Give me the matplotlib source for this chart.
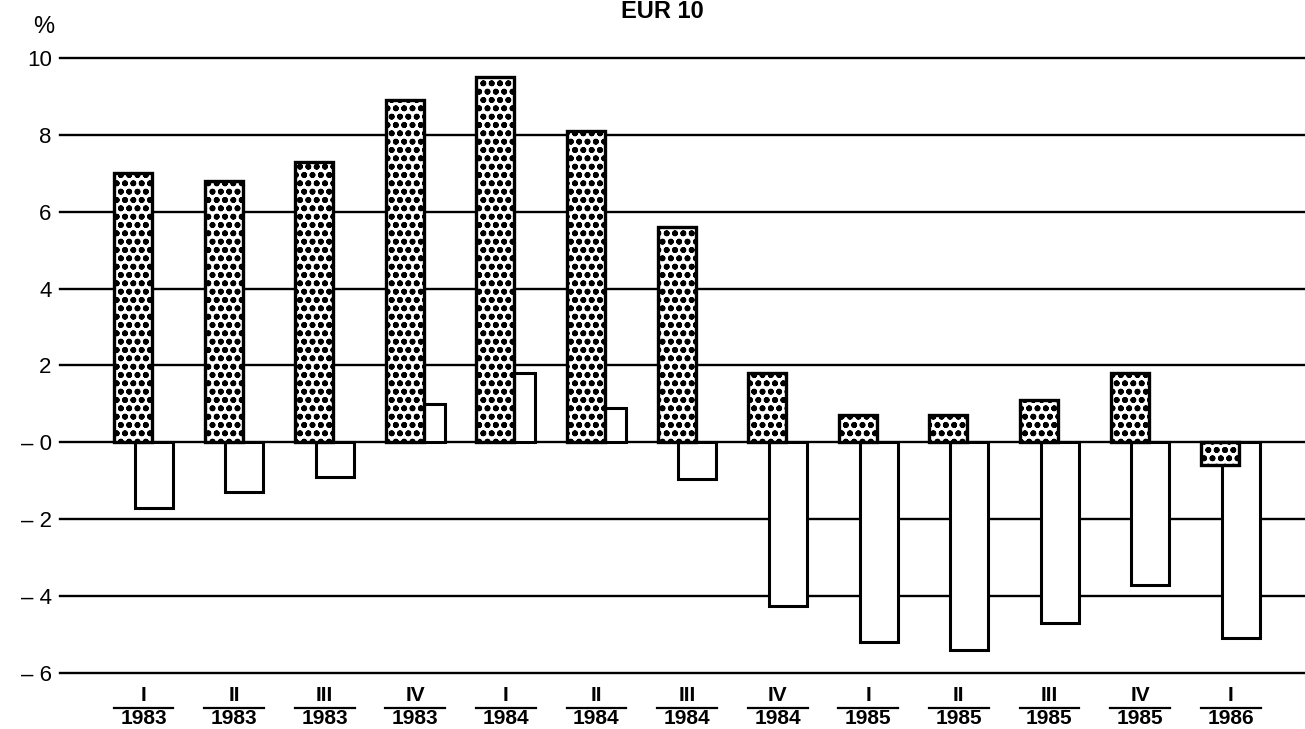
import matplotlib
matplotlib.use('Agg')
import matplotlib.pyplot as plt
import matplotlib.transforms as mtransforms
import numpy as np

plt.rcParams['font.family'] = ['Liberation Sans', 'DejaVu Sans']
plt.rcParams['hatch.linewidth'] = 1.8

# --- Données ---
trimestres = ['I', 'II', 'III', 'IV', 'I', 'II', 'III', 'IV', 'I', 'II', 'III', 'IV', 'I']
annees     = ['1983', '1983', '1983', '1983', '1984', '1984', '1984', '1984',
              '1985', '1985', '1985', '1985', '1986']
pointilles = [7.0, 6.8, 7.3, 8.9, 9.5, 8.1, 5.6, 1.8, 0.7, 0.7, 1.1, 1.8, -0.6]
blancs     = [-1.7, -1.3, -0.9, 1.0, 1.8, 0.9, -0.95, -4.25, -5.2, -5.4, -4.7, -3.7, -5.1]
yticks     = [10, 8, 6, 4, 2, 0, -2, -4, -6]
ylabels    = ['10', '8', '6', '4', '2', '\u2013 0', '\u2013 2', '\u2013 4', '\u2013 6']

LARG   = 0.42
DECAL  = 0.23

fig = plt.figure(figsize=(13.05, 7.29), dpi=100)
ax = fig.add_axes([60 / 1305, 0.0453, 1 - 60 / 1305, 0.8963])

x = np.arange(len(pointilles))

# barres blanches (derrière)
ax.bar(x + DECAL, blancs, width=LARG, color='white', edgecolor='black',
       linewidth=2.2, zorder=2)
# barres pointillées (devant)
ax.bar(x, pointilles, width=LARG, color='white', edgecolor='black',
       linewidth=2.4, hatch='oo', zorder=3)

for y in yticks:
    ax.axhline(y, color='black', linewidth=1.7, zorder=1, clip_on=False)

ax.set_xlim(-0.806, 12.936)
ax.set_ylim(-6.6, 10.4)
ax.set_yticks(yticks)
ax.set_yticklabels(ylabels, fontsize=16)
ax.tick_params(axis='y', length=0, pad=6)
ax.set_xticks([])
for s in ax.spines.values():
    s.set_visible(False)

# étiquettes en fraction sous l'axe
trans = mtransforms.blended_transform_factory(ax.transData, fig.transFigure)
for i, (t, a) in enumerate(zip(trimestres, annees)):
    cx = i + DECAL / 2
    ax.text(cx, 0.0325, t, transform=trans, ha='center', va='bottom',
            fontsize=15, fontweight='bold', clip_on=False)
    ax.plot([cx - 0.33, cx + 0.33], [0.0288, 0.0288], transform=trans,
            color='black', linewidth=1.6, clip_on=False)
    ax.text(cx, 0.0015, a, transform=trans, ha='center', va='bottom',
            fontsize=15, fontweight='bold', clip_on=False)

fig.text(662 / 1305, 1 - 12 / 729, 'EUR 10', ha='center', va='center',
         fontsize=17, fontweight='bold')
fig.text(44 / 1305, 1 - 27 / 729, '%', ha='center', va='center', fontsize=17)

fig.savefig('out.png', dpi=100)
